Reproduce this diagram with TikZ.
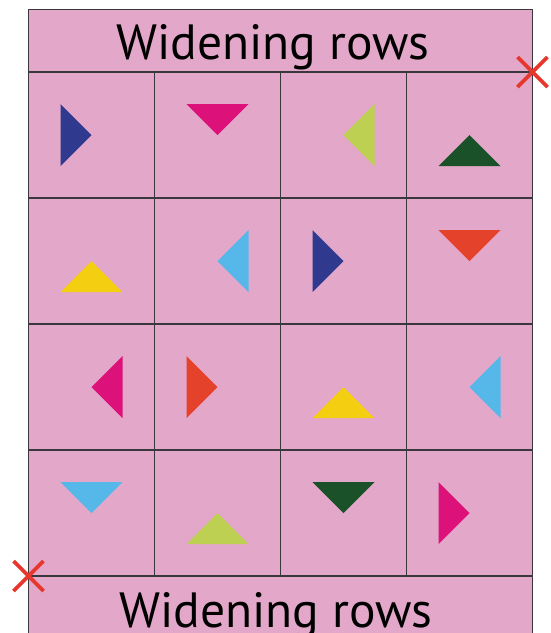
\documentclass[tikz,border=0pt]{standalone}
\usepackage{fontspec}
\setmainfont{PT Sans}
\definecolor{pinkbg}{HTML}{E3A7C9}
\definecolor{gridln}{HTML}{3A383C}
\definecolor{tblue}{HTML}{2F3A8F}
\definecolor{tmag}{HTML}{DC117A}
\definecolor{tlime}{HTML}{BDD051}
\definecolor{tgreen}{HTML}{1B5128}
\definecolor{tyellow}{HTML}{F4CE10}
\definecolor{tlblue}{HTML}{55B8E8}
\definecolor{tred}{HTML}{E4422A}
\definecolor{xred}{HTML}{E6372C}
\begin{document}
\begin{tikzpicture}[x=1pt,y=-1pt,
  cell/.style={draw=gridln,line width=1.4pt,fill=pinkbg,minimum width=126pt,minimum height=126pt,inner sep=0pt,outer sep=0pt},
  band/.style={draw=gridln,line width=1.4pt,fill=pinkbg,inner sep=0pt,outer sep=0pt},
  label/.style={font=\fontsize{49.5}{52}\selectfont,text=black,inner sep=0pt,anchor=base},
  cross/.style={draw=xred,line width=3.6pt}]
\useasboundingbox (0,0) rectangle (550,633);
\clip (0,0) rectangle (550,633);
% header and footer bands
\draw[band] (28.5,9.5) rectangle (532.5,72);
\draw[band] (28.5,576) rectangle (532.5,660);
\node[label] (top) at (273,59) {Widening rows};
\node[label] (bot) at (276,627) {Widening rows};
% cells
\foreach \r/\y in {1/135,2/261,3/387,4/513}{
  \foreach \c/\x in {1/91.5,2/217.5,3/343.5,4/469.5}{
    \node[cell] (c\r\c) at (\x,\y) {};
  }
}
% triangles: R = pointing right, L = left, D = down, U = up
\newcommand\triR[2]{\fill[#2] ([shift={(-31,-31)}]#1.center) -- ([shift={(-31,31)}]#1.center) -- (#1.center) -- cycle;}
\newcommand\triL[2]{\fill[#2] ([shift={(31,-31)}]#1.center) -- ([shift={(31,31)}]#1.center) -- (#1.center) -- cycle;}
\newcommand\triD[2]{\fill[#2] ([shift={(-31,-31)}]#1.center) -- ([shift={(31,-31)}]#1.center) -- (#1.center) -- cycle;}
\newcommand\triU[2]{\fill[#2] ([shift={(-31,31)}]#1.center) -- ([shift={(31,31)}]#1.center) -- (#1.center) -- cycle;}
\triR{c11}{tblue}
\triD{c12}{tmag}
\triL{c13}{tlime}
\triU{c14}{tgreen}
\triU{c21}{tyellow}
\triL{c22}{tlblue}
\triR{c23}{tblue}
\triD{c24}{tred}
\triL{c31}{tmag}
\triR{c32}{tred}
\triU{c33}{tyellow}
\triL{c34}{tlblue}
\triD{c41}{tlblue}
\triU{c42}{tlime}
\triD{c43}{tgreen}
\triR{c44}{tmag}
% red crosses
\coordinate (xa) at (c14.north east);
\coordinate (xb) at (c41.south west);
\draw[cross] ([shift={(-15,-15)}]xa) -- ([shift={(15,15)}]xa);
\draw[cross] ([shift={(-15,15)}]xa) -- ([shift={(15,-15)}]xa);
\draw[cross] ([shift={(-15,-15)}]xb) -- ([shift={(15,15)}]xb);
\draw[cross] ([shift={(-15,15)}]xb) -- ([shift={(15,-15)}]xb);
\end{tikzpicture}
\end{document}
